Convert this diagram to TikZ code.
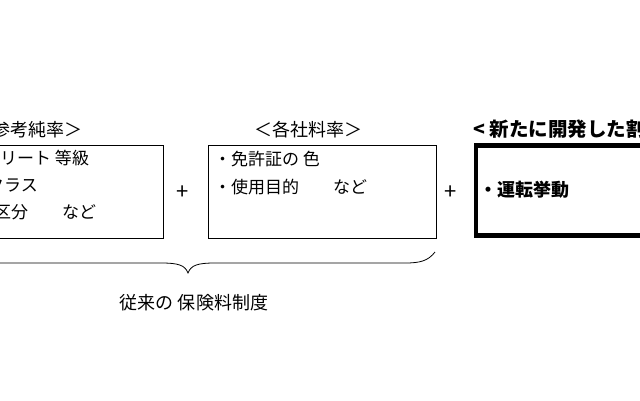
\documentclass[tikz,border=0pt]{standalone}
\usepackage{fontspec}
\setmainfont{Noto Sans CJK JP}
\usetikzlibrary{positioning}

\begin{document}
\begin{tikzpicture}[x=1pt,y=-1pt,box/.style={draw,minimum width=228pt,minimum height=93pt,line width=0.9pt},txt/.style={anchor=west,inner sep=0pt,font=\fontsize{17}{19}\selectfont},ttl/.style={txt,font=\fontsize{18}{20}\selectfont},plus/.style={inner sep=0pt,font=\fontsize{22}{24}\selectfont}]
\useasboundingbox (0,0) rectangle (640,400);
\clip (0,0) rectangle (640,400);
% three rate boxes
\node[box] (base) at (49,191.5) {};
\node[box] (comp) at (322,191.5) {};
\node[box,line width=4.5pt,minimum height=90pt] (new) at (590,190.5) {};
% titles
\node[ttl,anchor=east] (tbase) at (83,130) {参考純率＞};
\node[ttl] (tcomp) at (254,130) {＜各社料率＞};
\node[ttl,font=\fontsize{19.5}{21}\selectfont\bfseries] (tnew) at (473,129) {< 新たに開発した割};
% box contents
\node[txt] (b1) at (0,158) {リート 等級};
\node[txt] (b2) at (-13,185) {クラス};
\node[txt] (b3) at (-6,212) {区分　　など};
\node[txt] (c1) at (214,159) {・免許証の 色};
\node[txt] (c2) at (214,187) {・使用目的　　など};
\node[txt,font=\fontsize{18}{20}\selectfont\bfseries] (n1) at (479,190) {・運転挙動};
\node[plus] (p1) at (182.5,192.5) {+};
\node[plus] (p2) at (451,192.5) {+};
% brace under the old system
\coordinate (bl) at (-59,252);
\coordinate (br) at (435,252);
\coordinate (tip) at (188,273);
\draw[line width=0.8pt] (br) .. controls (428,261) and (420,263) .. (405,263) -- (215,263) .. controls (198,263) and (191,265) .. (tip) .. controls (185,265) and (178,263) .. (161,263) -- (-29,263) .. controls (-44,263) and (-52,261) .. (bl);
\node[ttl,anchor=center] (old) at (194,303) {従来の 保険料制度};
\end{tikzpicture}
\end{document}
